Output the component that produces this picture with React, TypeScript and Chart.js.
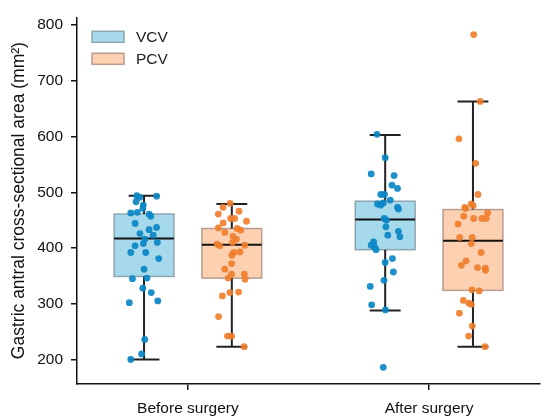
import { useEffect, useRef } from 'react';
import { Chart, registerables, type Plugin } from 'chart.js';

Chart.register(...registerables);

const categories = ['Before surgery', 'After surgery'];
const seriesNames = ['VCV', 'PCV'];
const yTicks = [200, 300, 400, 500, 600, 700, 800];

// box stats per category: [whisker low, q1, median, q3, whisker high]
const vcvStats = [
    [200, 349, 417, 461, 494],
    [288, 397, 451, 484, 603],
];
const pcvStats = [
    [223, 346, 406, 435, 479],
    [223, 324, 413, 469, 663],
];

// strip points, values and horizontal jitter (category units)
const vcvBeforeValues = [494, 491, 493, 483, 477, 471, 463, 464, 461, 457, 444, 437, 433, 426, 423, 416, 408, 410, 404, 392, 392, 381, 362, 345, 346, 328, 320, 302, 305, 236, 210, 200];
const vcvBeforeJitter = [-0.03, -0.017, 0.052, -0.033, -0.003, -0.005, -0.055, -0.028, 0.021, 0.028, -0.037, 0.052, 0.021, -0.017, 0.038, 0.004, -0.003, 0.055, -0.037, -0.055, 0.007, 0.061, 0, -0.048, 0.012, -0.005, 0.03, -0.061, 0.057, 0.003, -0.01, -0.055];

const pcvBeforeValues = [480, 473, 466, 461, 453, 453, 448, 445, 436, 435, 432, 428, 421, 416, 410, 407, 404, 405, 392, 387, 393, 372, 362, 353, 353, 346, 344, 314, 320, 321, 277, 242, 242, 223];
const pcvBeforeJitter = [-0.007, -0.036, 0.03, -0.056, -0.005, 0.012, 0.061, -0.036, -0.056, 0.022, 0.037, -0.029, 0.005, 0.019, 0.003, -0.061, -0.05, 0.054, 0.008, 0, 0.034, -0.001, -0.029, -0.001, 0.052, -0.015, 0.055, -0.039, -0.008, 0.028, -0.055, -0.018, -0.001, 0.051];

const vcvAfterValues = [604, 562, 533, 530, 513, 507, 496, 496, 486, 479, 477, 481, 473, 470, 453, 450, 438, 430, 423, 420, 411, 405, 402, 397, 374, 381, 357, 342, 331, 298, 289, 186];
const vcvAfterJitter = [-0.034, 0, -0.058, 0.037, 0.028, 0.051, -0.018, -0.003, 0.021, -0.032, -0.018, -0.008, 0.051, 0.055, -0.004, 0.005, 0.003, 0.055, 0.011, 0.061, -0.048, -0.058, -0.044, -0.038, 0, 0.03, 0.034, -0.005, -0.062, -0.056, 0.001, -0.008];

const pcvAfterValues = [783, 663, 596, 552, 496, 473, 471, 479, 476, 463, 457, 453, 453, 453, 443, 419, 419, 408, 392, 377, 369, 365, 364, 360, 325, 323, 306, 301, 299, 283, 260, 242, 223];
const pcvAfterJitter = [0.003, 0.03, -0.058, 0.011, 0.021, -0.034, -0.03, -0.007, 0.001, 0.061, -0.038, 0.003, 0.037, 0.055, -0.062, -0.055, -0.003, -0.007, 0.034, -0.029, -0.048, 0.019, 0.051, 0.052, -0.004, 0.026, -0.04, -0.017, -0.007, -0.056, -0.003, -0.018, 0.05];

const dodge = 0.182;
const boxHalf = 0.124;
const capHalf = 0.064;

const boxFills = ['#a6d9ec', '#fdd0b2'];
const boxEdges = ['#8ea5ae', '#b89c8f'];
const pointColors = ['rgba(10,135,196,0.92)', 'rgba(240,125,42,0.9)'];
const FONT = "'Liberation Sans', Arial, sans-serif";

function toPoints(values: number[], jitter: number[], center: number) {
    return values.map((v, i) => ({ x: center + jitter[i], y: v }));
}

const boxPlugin: Plugin<'scatter'> = {
    id: 'boxes',
    beforeDatasetsDraw(chart) {
        const { ctx } = chart;
        const xs = chart.scales.x;
        const ys = chart.scales.y;
        const groups = [vcvStats, pcvStats];
        ctx.save();
        groups.forEach((stats, s) => {
            stats.forEach((st, c) => {
                const center = c + (s === 0 ? -dodge : dodge);
                const x0 = xs.getPixelForValue(center - boxHalf);
                const x1 = xs.getPixelForValue(center + boxHalf);
                const xm = xs.getPixelForValue(center);
                const c0 = xs.getPixelForValue(center - capHalf);
                const c1 = xs.getPixelForValue(center + capHalf);
                const [lo, q1, med, q3, hi] = st.map((v) => ys.getPixelForValue(v));

                ctx.fillStyle = boxFills[s];
                ctx.fillRect(x0, q3, x1 - x0, q1 - q3);
                ctx.strokeStyle = boxEdges[s];
                ctx.lineWidth = 1.5;
                ctx.strokeRect(x0, q3, x1 - x0, q1 - q3);

                ctx.strokeStyle = '#222';
                ctx.lineWidth = 2;
                ctx.beginPath();
                ctx.moveTo(xm, q1);
                ctx.lineTo(xm, lo);
                ctx.moveTo(xm, q3);
                ctx.lineTo(xm, hi);
                ctx.moveTo(c0, lo);
                ctx.lineTo(c1, lo);
                ctx.moveTo(c0, hi);
                ctx.lineTo(c1, hi);
                ctx.stroke();

                ctx.strokeStyle = '#111';
                ctx.beginPath();
                ctx.moveTo(x0, med);
                ctx.lineTo(x1, med);
                ctx.stroke();
            });
        });
        ctx.restore();
    },
    afterDraw(chart) {
        const { ctx, chartArea } = chart;
        ctx.save();
        ctx.font = `15.5px ${FONT}`;
        ctx.textBaseline = 'middle';
        seriesNames.forEach((name, i) => {
            const top = chartArea.top + 14 + i * 22;
            ctx.fillStyle = boxFills[i];
            ctx.fillRect(chartArea.left + 15, top, 32, 11);
            ctx.strokeStyle = boxEdges[i];
            ctx.lineWidth = 1.5;
            ctx.strokeRect(chartArea.left + 15, top, 32, 11);
            ctx.fillStyle = '#222';
            ctx.fillText(name, chartArea.left + 59, top + 6);
        });
        ctx.restore();
    },
};

export default function App() {
    const canvasRef = useRef<HTMLCanvasElement>(null);
    const chartRef = useRef<Chart | null>(null);

    useEffect(() => {
        document.body.style.margin = '0';
        if (!canvasRef.current) return;
        if (chartRef.current) chartRef.current.destroy();

        chartRef.current = new Chart(canvasRef.current, {
            type: 'scatter',
            data: {
                datasets: [
                    { label: 'VCV', data: toPoints(vcvBeforeValues, vcvBeforeJitter, -dodge), backgroundColor: pointColors[0] },
                    { label: 'PCV', data: toPoints(pcvBeforeValues, pcvBeforeJitter, dodge), backgroundColor: pointColors[1] },
                    { label: 'VCV', data: toPoints(vcvAfterValues, vcvAfterJitter, 1 - dodge), backgroundColor: pointColors[0] },
                    { label: 'PCV', data: toPoints(pcvAfterValues, pcvAfterJitter, 1 + dodge), backgroundColor: pointColors[1] },
                ],
            },
            options: {
                animation: false,
                responsive: true,
                maintainAspectRatio: false,
                layout: { padding: { top: 13, right: 10, left: 0, bottom: 2 } },
                elements: { point: { radius: 3.4, borderWidth: 0, hoverRadius: 3.4 } },
                plugins: { legend: { display: false }, tooltip: { enabled: false } },
                scales: {
                    x: {
                        type: 'linear',
                        min: -0.46,
                        max: 1.46,
                        afterBuildTicks: (scale) => {
                            scale.ticks = categories.map((_, i) => ({ value: i }));
                        },
                        afterFit: (scale) => {
                            scale.height = 34;
                        },
                        ticks: {
                            callback: (v) => categories[Number(v)] ?? '',
                            color: '#111',
                            font: { family: FONT, size: 15.5 },
                            padding: 9,
                            maxRotation: 0,
                        },
                        grid: { drawOnChartArea: false, drawTicks: true, tickLength: 6, color: '#111', lineWidth: 1.5 },
                        border: { display: true, color: '#111', width: 1.5 },
                    },
                    y: {
                        min: 156,
                        max: 814,
                        afterBuildTicks: (scale) => {
                            scale.ticks = yTicks.map((v) => ({ value: v }));
                        },
                        afterFit: (scale) => {
                            scale.width = 77;
                        },
                        ticks: {
                            color: '#111',
                            font: { family: FONT, size: 15.5 },
                            padding: 8,
                        },
                        grid: { drawOnChartArea: false, drawTicks: true, tickLength: 6, color: '#111', lineWidth: 1.5 },
                        border: { display: true, color: '#111', width: 1.5 },
                        title: {
                            display: true,
                            text: 'Gastric antral cross-sectional area (mm²)',
                            color: '#111',
                            font: { family: FONT, size: 17.5 },
                            padding: { top: 9, bottom: 0 },
                        },
                    },
                },
            },
            plugins: [boxPlugin],
        });

        return () => {
            chartRef.current?.destroy();
            chartRef.current = null;
        };
    }, []);

    return (
        <div style={{ position: 'relative', width: 550, height: 420 }}>
            <canvas ref={canvasRef} />
        </div>
    );
}
